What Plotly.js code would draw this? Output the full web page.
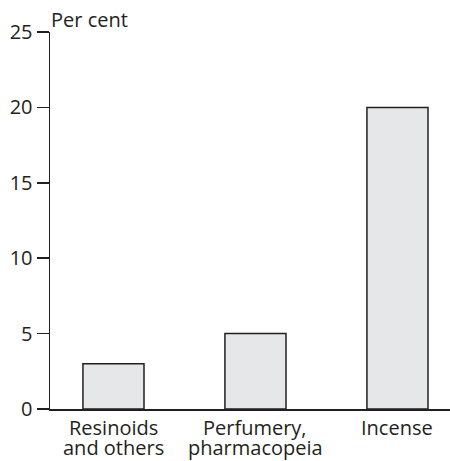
<!DOCTYPE html>
<html><head><meta charset="utf-8">
<script src="https://cdn.plot.ly/plotly-3.0.1.min.js"></script>
<style>body{margin:0;padding:0;background:#fff}#c{width:450px;height:461px}</style>
</head><body><div id="c"></div>
<script>
const categories = ["Resinoids and others", "Perfumery, pharmacopeia", "Incense"];
const labelLine1 = ["Resinoids", "Perfumery,", "Incense"];
const labelLine2 = ["and others", "pharmacopeia", ""];
const values = [3, 5, 20];
const yTicks = [0, 5, 10, 15, 20, 25];
const yTitle = "Per cent";

const font = {family: "Open Sans, Noto Sans, sans-serif", size: 20, color: "#231f20"};
const xIdx = categories.map((_, i) => i);
const annotations = [{
  text: yTitle, xref: "paper", yref: "paper", x: 0, y: 1, xanchor: "left", yanchor: "bottom",
  showarrow: false, font: font, xshift: -1, yshift: -3
}];
xIdx.forEach(i => {
  annotations.push({text: labelLine1[i], xref: "x", yref: "paper", x: i, y: 0, xanchor: "center", yanchor: "top",
    showarrow: false, font: font, yshift: -3});
  if (labelLine2[i]) annotations.push({text: labelLine2[i], xref: "x", yref: "paper", x: i, y: 0, xanchor: "center", yanchor: "top",
    showarrow: false, font: font, yshift: -23});
});
Plotly.newPlot("c", [{
  type: "bar",
  x: xIdx,
  y: values,
  marker: {color: "#e6e7e8", line: {color: "#231f20", width: 1.5}},
  hoverinfo: "none"
}], {
  width: 450, height: 461,
  margin: {l: 50, r: 0, t: 32, b: 52},
  paper_bgcolor: "#fff", plot_bgcolor: "#fff",
  font: font,
  bargap: 0.57,
  showlegend: false,
  xaxis: {
    range: [-0.447, 2.37], showticklabels: false,
    showgrid: false, zeroline: false, showline: true, linecolor: "#231f20", linewidth: 1.5,
    ticks: "", fixedrange: true
  },
  yaxis: {
    range: [0, 25], tickvals: yTicks, ticktext: yTicks.map(String),
    showgrid: false, zeroline: false, showline: true, linecolor: "#231f20", linewidth: 1.5,
    ticks: "outside", ticklen: 12, tickwidth: 1.5, tickcolor: "#231f20", tickfont: font, fixedrange: true
  },
  annotations: annotations
}, {staticPlot: true});
</script></body></html>
